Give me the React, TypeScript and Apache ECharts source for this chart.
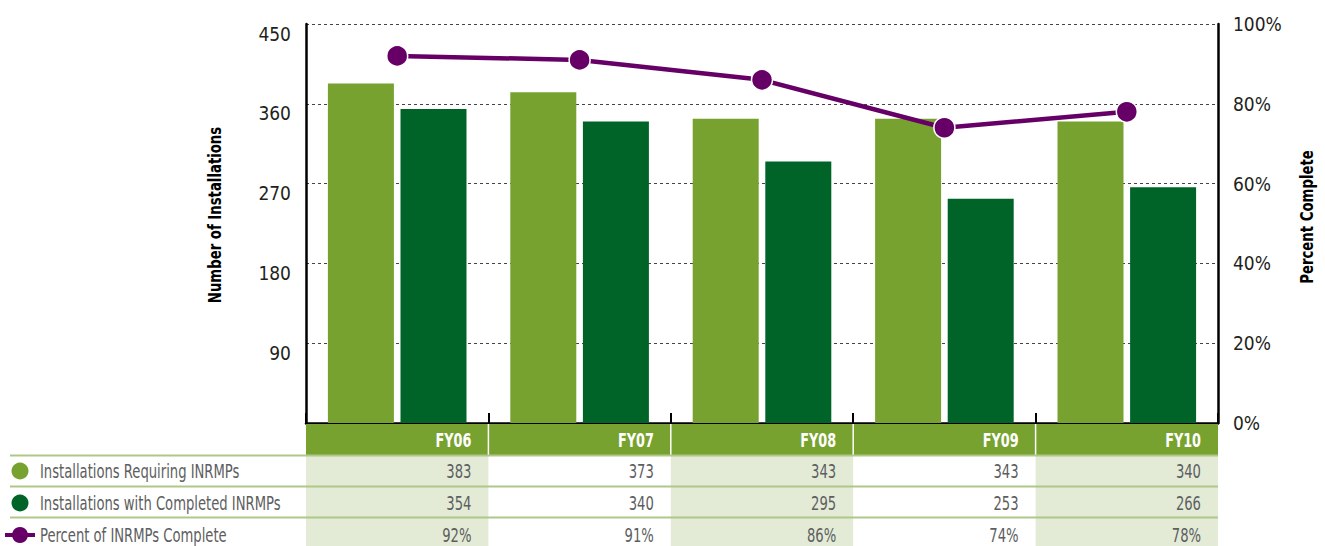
import React, { useEffect, useRef } from "react";
import * as echarts from "echarts";

const categories = ["FY06", "FY07", "FY08", "FY09", "FY10"];
const requiring = [383, 373, 343, 343, 340];
const completed = [354, 340, 295, 253, 266];
const percentComplete = [92, 91, 86, 74, 78];
const seriesNames = [
  "Installations Requiring INRMPs",
  "Installations with Completed INRMPs",
  "Percent of INRMPs Complete",
];
const leftAxisName = "Number of Installations";
const rightAxisName = "Percent Complete";

const FONT = "'Liberation Sans Narrow', 'Arial Narrow', 'DejaVu Sans Condensed', 'DejaVu Sans', sans-serif";
const LIGHT = "#78A22F";
const DARK = "#006428";
const PURPLE = "#660066";
const SHADE = "#E3EBD7";
const RULE = "#AFC888";
const TEXT = "#5D5E60";
const SX = 0.77;

const GL = 306, GR = 1218, GT = 24, GB = 423;

export default function App() {
  const ref = useRef<HTMLDivElement>(null);
  useEffect(() => {
    document.body.style.margin = "0";
    const chart = echarts.init(ref.current!, undefined, { renderer: "svg" });
    const colW = (GR - GL) / categories.length;
    const rowY = [471, 503, 535];
    const graphic: any[] = [];
    categories.forEach((_, i) => {
      if (i % 2 === 0) {
        graphic.push({ type: "rect", z: 1, shape: { x: GL + i * colW, y: 455, width: colW, height: 91 }, style: { fill: SHADE } });
      }
    });
    graphic.push({ type: "rect", z: 2, shape: { x: GL, y: 424, width: GR - GL, height: 31 }, style: { fill: LIGHT } });
    for (let i = 1; i < categories.length; i++) {
      graphic.push({ type: "line", z: 3, shape: { x1: GL + i * colW, y1: 424, x2: GL + i * colW, y2: 455 }, style: { stroke: "#fff", lineWidth: 1.5 } });
    }
    [455.5, 486.5, 517.5].forEach((y) => {
      graphic.push({ type: "line", z: 3, shape: { x1: 10, y1: y, x2: GR, y2: y }, style: { stroke: RULE, lineWidth: 2 } });
    });
    categories.forEach((c, i) => {
      graphic.push({ type: "text", z: 4, x: GL + (i + 1) * colW - 17, y: 440, scaleX: 0.75, style: { text: c, fill: "#fff", font: `bold 19px ${FONT}`, align: "right", verticalAlign: "middle" } });
    });
    const rows = [requiring.map(String), completed.map(String), percentComplete.map((v) => v + "%")];
    rows.forEach((row, r) => {
      row.forEach((v, i) => {
        graphic.push({ type: "text", z: 4, x: GL + (i + 1) * colW - 17, y: rowY[r], scaleX: SX, style: { text: v, fill: TEXT, font: `19px ${FONT}`, align: "right", verticalAlign: "middle" } });
      });
      graphic.push({ type: "text", z: 4, x: 40, y: rowY[r], scaleX: SX, style: { text: seriesNames[r], fill: TEXT, font: `19px ${FONT}`, align: "left", verticalAlign: "middle" } });
    });
    graphic.push({ type: "circle", z: 4, shape: { cx: 20, cy: rowY[0], r: 8.5 }, style: { fill: LIGHT } });
    graphic.push({ type: "circle", z: 4, shape: { cx: 20, cy: rowY[1], r: 8.5 }, style: { fill: DARK } });
    graphic.push({ type: "line", z: 4, shape: { x1: 5, y1: rowY[2], x2: 35, y2: rowY[2] }, style: { stroke: PURPLE, lineWidth: 4 } });
    graphic.push({ type: "circle", z: 5, shape: { cx: 20, cy: rowY[2], r: 8 }, style: { fill: PURPLE } });
    graphic.push({ type: "text", z: 4, x: 215, y: 215, rotation: Math.PI / 2, scaleX: 0.82, style: { text: leftAxisName, fill: "#000", font: `bold 18px ${FONT}`, align: "center", verticalAlign: "middle" } });
    graphic.push({ type: "text", z: 4, x: 1307, y: 217, rotation: Math.PI / 2, scaleX: 0.82, style: { text: rightAxisName, fill: "#000", font: `bold 18px ${FONT}`, align: "center", verticalAlign: "middle" } });

    chart.setOption({
      animation: false,
      textStyle: { fontFamily: FONT },
      grid: { left: GL, right: 1325 - GR, top: GT, bottom: 546 - GB, containLabel: false, outerBoundsMode: "none" },
      xAxis: {
        type: "category",
        data: categories,
        axisLine: { lineStyle: { color: "#000", width: 2.5 } },
        axisTick: { show: true, inside: true, length: 10, lineStyle: { color: "#000", width: 2 } },
        axisLabel: { show: false },
        splitLine: { show: false },
      },
      yAxis: [
        {
          type: "value",
          min: 0,
          max: 450,
          interval: 90,
          axisLine: { show: true, lineStyle: { color: "#000", width: 2.5 } },
          axisTick: { show: false },
          axisLabel: { showMinLabel: false, margin: 15, verticalAlign: "top", fontFamily: FONT, fontSize: 19, color: "#231F20" },
          splitLine: { show: true, lineStyle: { color: "#444", type: [3, 3], width: 1 } },
        },
        {
          type: "value",
          min: 0,
          max: 100,
          interval: 20,
          axisLine: { show: true, lineStyle: { color: "#000", width: 2.5 } },
          axisTick: { show: false },
          axisLabel: { formatter: "{value}%", margin: 15, fontFamily: FONT, fontSize: 19, color: "#231F20" },
          splitLine: { show: false },
        },
      ],
      series: [
        { name: seriesNames[0], type: "bar", data: requiring, barWidth: 66, barGap: "10%", itemStyle: { color: LIGHT } },
        { name: seriesNames[1], type: "bar", data: completed, barWidth: 66, barGap: "10%", itemStyle: { color: DARK } },
        {
          name: seriesNames[2],
          type: "line",
          yAxisIndex: 1,
          data: percentComplete,
          symbol: "circle",
          symbolSize: 21,
          lineStyle: { color: PURPLE, width: 4.5 },
          itemStyle: { color: PURPLE, borderColor: "#fff", borderWidth: 1.5 },
          z: 5,
        },
      ],
      graphic,
    });
    return () => chart.dispose();
  }, []);
  return <div ref={ref} style={{ width: 1325, height: 546 }} />;
}
